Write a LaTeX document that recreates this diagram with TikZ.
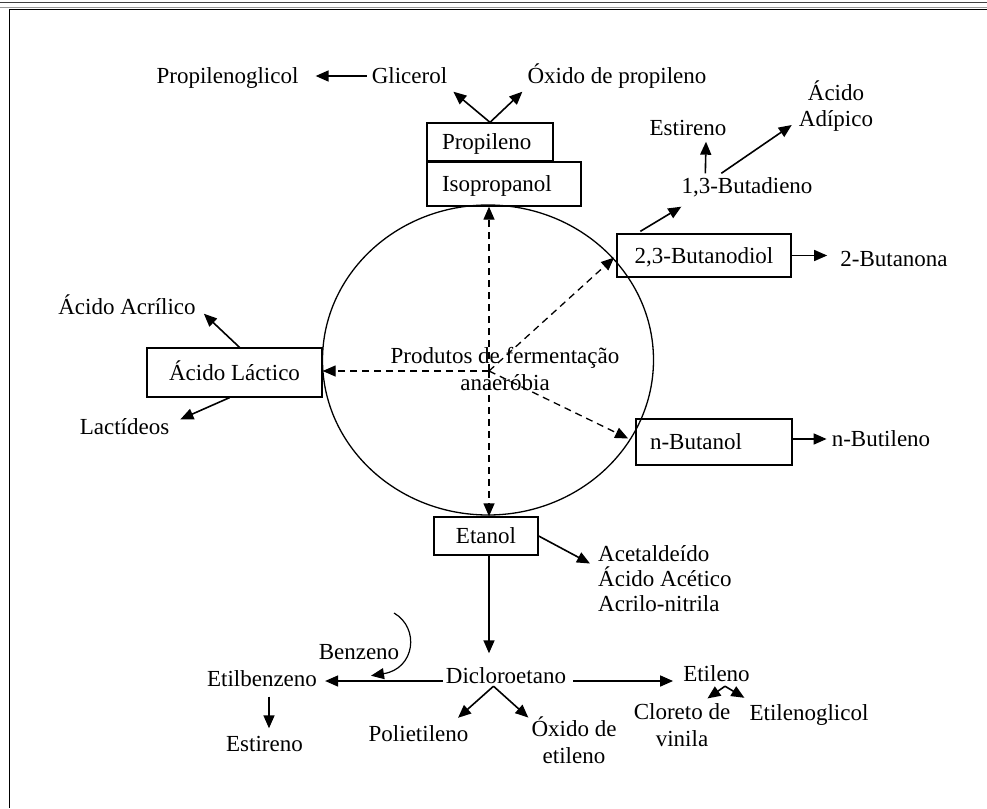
\documentclass[tikz,border=0pt]{standalone}
\usepackage{fontspec}
\setmainfont{Liberation Serif}
\usetikzlibrary{arrows.meta,calc}

\begin{document}
\begin{tikzpicture}[x=1pt, y=-1pt,
    font=\fontsize{23}{26.5}\selectfont,
    box/.style={draw, line width=1.3pt, inner sep=0pt, text height=15pt, text depth=0pt},
    lbl/.style={inner sep=0pt, text height=15pt, text depth=0pt},
    multi/.style={inner sep=0pt, align=center},
    flow/.style={line width=1.6pt, -{Triangle[length=13pt,width=11pt]}},
    dflow/.style={flow, line width=1.3pt, dash pattern=on 7pt off 5pt}]
    \useasboundingbox (0,0) rectangle (987,808);

    % Page frame
    \draw[line width=1.6pt, black!75] (0,2.5) -- (987,2.5);
    \draw[line width=0.8pt, black!40] (0,7) -- (987,7);
    \draw[line width=1.6pt] (987,9.5) -- (9.5,9.5) -- (9.5,808);

    % Fermentation cell
    \draw[line width=1.3pt] (488,360) ellipse [x radius=165.5pt, y radius=155pt];
    \node[multi] (ferm) at (505,369) {Produtos de fermentação\\anaeróbia};
    \coordinate (hub) at (489,371);

    % Primary products
    \node[box, inner xsep=15pt, text width=96pt, align=left, minimum height=38pt] (prop) at (490,142) {Propileno};
    \node[box, inner xsep=15pt, text width=124pt, align=left, minimum height=44pt] (iso) at (504,184) {Isopropanol};
    \node[box, minimum width=175pt, minimum height=49pt] (lact) at (234.5,372.5) {Ácido Láctico};
    \node[box, minimum width=174pt, minimum height=43pt] (butd) at (704,255.5) {2,3-Butanodiol};
    \node[box, inner xsep=14pt, text width=128pt, align=left, minimum height=46pt] (nbut) at (714,442) {n-Butanol};
    \node[box, minimum width=104pt, minimum height=38pt] (etan) at (486,536) {Etanol};

    % Derivatives
    \node[lbl] (propgl) at (227.5,76) {Propilenoglicol};
    \node[lbl] (glic) at (409.5,76) {Glicerol};
    \node[lbl] (oxprop) at (617,76) {Óxido de propileno};
    \node[lbl] (estir2) at (688,128) {Estireno};
    \node[lbl] (bdieno) at (747,186) {1,3-Butadieno};
    \node[multi] (adip) at (836,106) {Ácido\\Adípico};
    \node[lbl] (butnona) at (894,259) {2-Butanona};
    \node[lbl] (acril) at (127,307) {Ácido Acrílico};
    \node[lbl] (lactid) at (124.5,427) {Lactídeos};
    \node[lbl] (nbutil) at (881,439) {n-Butileno};
    \node[multi, align=left, anchor=west, font=\fontsize{23}{25}\selectfont] (acet) at (598,578.5) {Acetaldeído\\Ácido Acético\\Acrilo-nitrila};

    % Ethanol chain
    \node[lbl] (diclo) at (506,676) {Dicloroetano};
    \node[lbl] (etilb) at (262,679) {Etilbenzeno};
    \node[lbl] (benz) at (359,652) {Benzeno};
    \node[lbl] (estir1) at (264.5,744) {Estireno};
    \node[lbl] (polie) at (418.5,734) {Polietileno};
    \node[multi] (oxet) at (574,740) {Óxido de\\etileno};
    \node[lbl] (etile) at (716.5,674) {Etileno};
    \node[multi] (clor) at (682,725) {Cloreto de\\vinila};
    \node[lbl] (etgl) at (809,713) {Etilenoglicol};
    \coordinate (bzin) at (394,613);

    % Fermentation routes
    \draw[dflow] (hub) -- (hub |- iso.south);
    \draw[dflow] (hub) -- (hub |- etan.north);
    \draw[dflow] (hub) -- (hub -| lact.east);
    \draw[dflow, shorten >=3pt] (hub) -- (butd.west);
    \draw[dflow, shorten >=8pt] (hub) -- (nbut.west);

    % Propylene branch
    \draw[flow, shorten <=5pt, shorten >=17pt] (glic.west) -- (propgl.east);
    \draw[flow] (prop.north) -- ($(glic.south east)+(6,8)$);
    \draw[flow] (prop.north) -- ($(oxprop.south west)+(-5,8)$);

    % Lactic acid branch
    \draw[flow] ($(lact.north)+(5,0)$) -- ($(acril.south east)+(8,-1)$);
    \draw[flow] ($(lact.south)+(-5,0)$) -- ($(lactid.north east)+(11,0)$);

    % Butanediol and butanol branches
    \draw[flow] ($(butd.north west)+(24,-2)$) -- ($(bdieno.south west)+(0,13)$);
    \draw[flow] ($(bdieno.north west)+(24,-5)$) -- ($(estir2.south)+(18,6)$);
    \draw[flow] ($(bdieno.north west)+(40,-5)$) -- ($(adip.west)+(-7,19)$);
    \draw[flow, shorten >=13pt] (butd.east) -- (butd.east -| butnona.west);
    \draw[flow, shorten >=5pt] (nbut.east |- nbutil.west) -- (nbutil.west);

    % Ethanol branch
    \draw[flow] (etan.east) -- ($(acet.west)+(-8,-15)$);
    \draw[flow] (hub |- etan.south) -- ($(hub |- diclo.north)+(0,-15)$);
    \draw[flow] ($(diclo.west)+(-3,5)$) -- ($(etilb.east)+(8,2)$);
    \draw[flow] ($(diclo.east)+(7,5)$) -- ($(etile.west)+(-10,7)$);
    \draw[flow, line width=1.2pt] (bzin) .. controls ($(bzin)+(26,15)$) and ($(benz.south)+(56,9)$) .. ($(benz.south)+(12,16)$);
    \draw[flow] ($(etilb.south)+(7,10)$) -- ($(estir1.north)+(4.5,-8)$);
    \draw[flow] ($(diclo.south)+(-12.5,2.5)$) -- ($(polie.north east)+(-10.5,-8.5)$);
    \draw[flow] ($(diclo.south)+(-12.5,2.5)$) -- ($(oxet.north west)+(-3,1)$);
    \draw[flow] ($(etile.south)+(8.5,4.5)$) -- ($(clor.north east)+(-23,-5)$);
    \draw[flow] ($(etile.south)+(8.5,4.5)$) -- ($(etgl.north west)+(-5,-7.5)$);
\end{tikzpicture}
\end{document}
